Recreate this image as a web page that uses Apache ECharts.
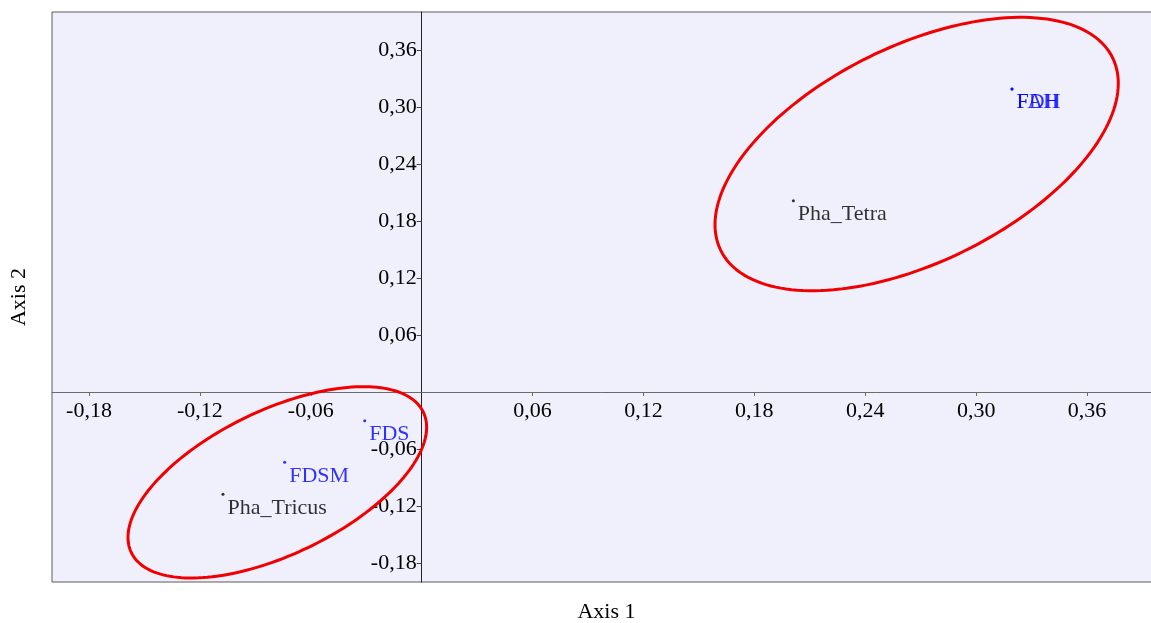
<!DOCTYPE html>
<html>
<head>
<meta charset="utf-8">
<script src="https://cdn.jsdelivr.net/npm/echarts@6/dist/echarts.min.js"></script>
<style>html,body{margin:0;padding:0;background:#fff;}#c{width:1151px;height:623px;}</style>
</head>
<body>
<div id="c"></div>
<script>
// ---- data ----
const speciesNames = ['Pha_Tetra', 'Pha_Tricus'];
const speciesX = [0.2011, -0.1075];
const speciesY = [0.2014, -0.1077];

const varNames = ['FDH', 'FAH', 'FDS', 'FDSM'];
const varX = [0.3194, 0.3194, -0.0308, -0.0741];
const varY = [0.3189, 0.3189, -0.0302, -0.0740];

// ellipses: centre and two conjugate semi-axis vectors (data units)
const ellipseCX = [0.2678, -0.0781];
const ellipseCY = [0.2505, -0.0951];
const ellipseUX = [0.1060, 0.0790];
const ellipseUY = [0.1014, 0.0739];
const ellipseVX = [-0.0258, -0.0169];
const ellipseVY = [0.1021, 0.0684];

const xTicks = [-0.18, -0.12, -0.06, 0.06, 0.12, 0.18, 0.24, 0.30, 0.36];
const yTicks = [-0.18, -0.12, -0.06, 0.06, 0.12, 0.18, 0.24, 0.30, 0.36];
const xMin = -0.2, xMax = 0.4, yMin = -0.2, yMax = 0.4;

const FONT = "'Liberation Serif', 'DejaVu Serif', serif";
const fmt = v => v.toFixed(2).replace('.', ',');

const GRID = {left: 52, top: 12, width: 1109, height: 570};
// pixel offsets to put the axes through the origin
const xAxisOffset = -GRID.height * (0 - yMin) / (yMax - yMin);
const yAxisOffset = -GRID.width * (0 - xMin) / (xMax - xMin);

const chart = echarts.init(document.getElementById('c'), null, {renderer: 'canvas'});

const ellipseData = ellipseCX.map((c, i) => [c, ellipseCY[i], ellipseUX[i], ellipseUY[i], ellipseVX[i], ellipseVY[i]]);

function mkLabel(color) {
  return {
    show: true,
    position: [6, 4],
    align: 'left',
    verticalAlign: 'top',
    fontFamily: FONT,
    fontSize: 22,
    color: color,
    formatter: p => p.name
  };
}

chart.setOption({
  animation: false,
  grid: {
    left: GRID.left, top: GRID.top, width: GRID.width, height: GRID.height,
    outerBoundsMode: 'none', containLabel: false,
    show: true, backgroundColor: '#f0f0fd', borderColor: '#5a5a5a', borderWidth: 1
  },
  xAxis: [{
    type: 'value', min: xMin, max: xMax, position: 'bottom', offset: xAxisOffset,
    axisLine: {onZero: false, lineStyle: {color: '#6a6a6a', width: 1}},
    axisTick: {show: true, inside: false, length: 4, customValues: xTicks, lineStyle: {color: '#6a6a6a'}},
    axisLabel: {customValues: xTicks, formatter: fmt, fontFamily: FONT, fontSize: 22, color: '#000', margin: 8},
    splitLine: {show: false}
  }, {
    type: 'value', min: xMin, max: xMax, position: 'bottom',
    axisLine: {show: false}, axisTick: {show: false}, axisLabel: {show: false}, splitLine: {show: false},
    name: 'Axis 1', nameLocation: 'middle', nameGap: 19,
    nameTextStyle: {fontFamily: FONT, fontSize: 22, color: '#000'}
  }],
  yAxis: [{
    type: 'value', min: yMin, max: yMax, position: 'left', offset: yAxisOffset,
    axisLine: {onZero: false, lineStyle: {color: '#222', width: 1}},
    axisTick: {show: true, length: 5, customValues: yTicks, lineStyle: {color: '#444'}},
    axisLabel: {customValues: yTicks, formatter: fmt, fontFamily: FONT, fontSize: 22, color: '#000', margin: 5},
    splitLine: {show: false}
  }, {
    type: 'value', min: yMin, max: yMax, position: 'left',
    axisLine: {show: false}, axisTick: {show: false}, axisLabel: {show: false}, splitLine: {show: false},
    name: 'Axis 2', nameLocation: 'middle', nameGap: 22,
    nameTextStyle: {fontFamily: FONT, fontSize: 22, color: '#000'}
  }],
  series: [{
    type: 'custom',
    xAxisIndex: 0, yAxisIndex: 0,
    data: ellipseData,
    encode: {x: 0, y: 1},
    z: 3,
    silent: true,
    renderItem: function (params, api) {
      const cx = api.value(0), cy = api.value(1);
      const ux = api.value(2), uy = api.value(3), vx = api.value(4), vy = api.value(5);
      const pts = [];
      const n = 180;
      for (let k = 0; k < n; k++) {
        const t = 2 * Math.PI * k / n;
        const c = Math.cos(t), s = Math.sin(t);
        pts.push(api.coord([cx + ux * c + vx * s, cy + uy * c + vy * s]));
      }
      return {
        type: 'polygon',
        shape: {points: pts},
        style: {fill: 'none', stroke: '#f20000', lineWidth: 3}
      };
    }
  }, {
    type: 'scatter',
    xAxisIndex: 0, yAxisIndex: 0,
    symbol: 'circle', symbolSize: 3,
    itemStyle: {color: '#000'},
    data: speciesNames.map((n, i) => ({name: n, value: [speciesX[i], speciesY[i]]})),
    label: mkLabel('#000'),
    z: 4
  }, {
    type: 'scatter',
    xAxisIndex: 0, yAxisIndex: 0,
    symbol: 'circle', symbolSize: 3,
    itemStyle: {color: '#0000ff'},
    data: varNames.map((n, i) => ({name: n, value: [varX[i], varY[i]]})),
    label: mkLabel('#0000ff'),
    labelLayout: {hideOverlap: false},
    z: 4
  }]
});
</script>
</body>
</html>
